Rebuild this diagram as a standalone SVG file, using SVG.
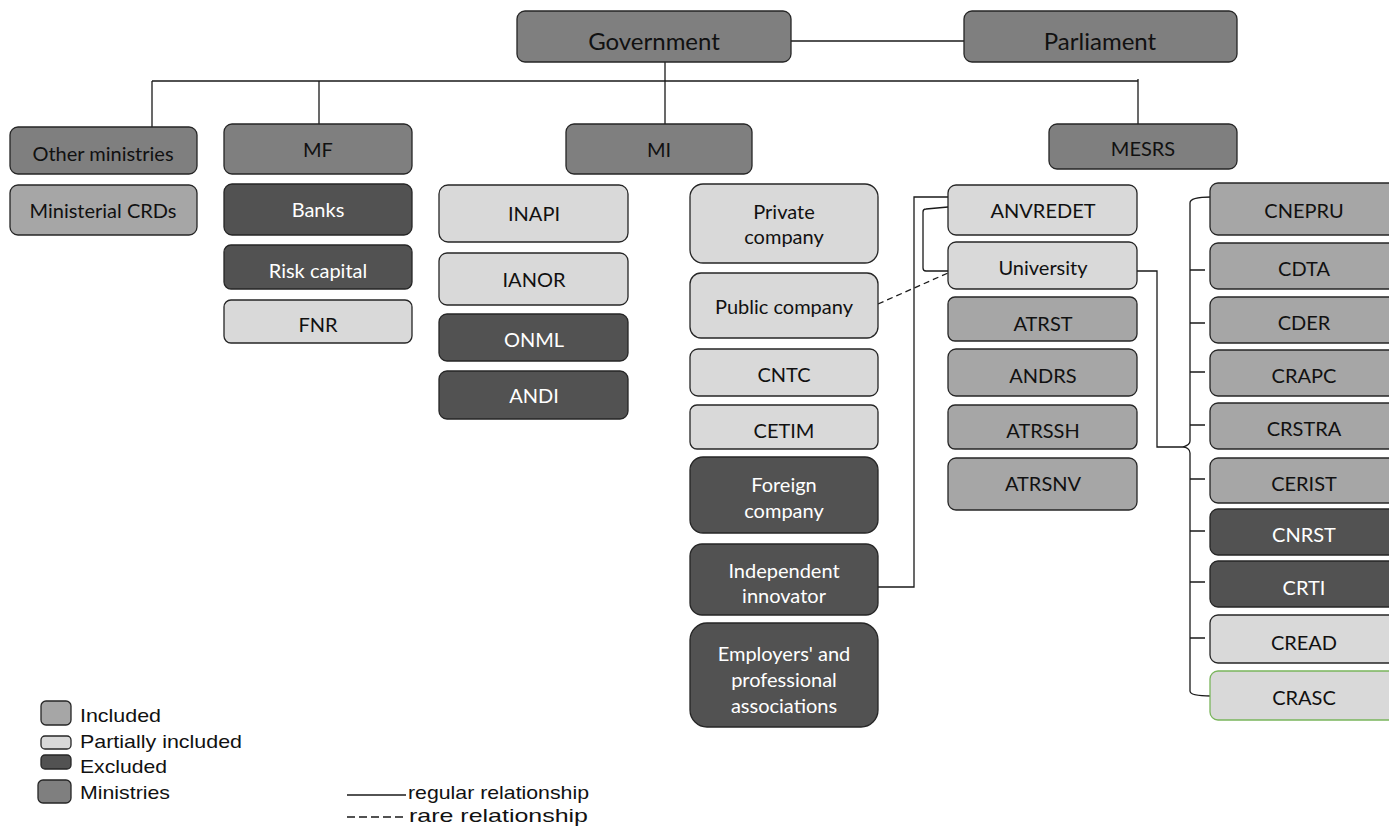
<svg xmlns="http://www.w3.org/2000/svg" width="1389" height="830" viewBox="0 0 1389 830">
<style>
rect{stroke:#262626;stroke-width:1.3}
.min{fill:#7f7f7f}
.inc{fill:#a6a6a6}
.par{fill:#d9d9d9}
.exc{fill:#525252}
text{font-family:Lato,"Liberation Sans",sans-serif;font-size:20px;text-anchor:middle;fill:#111}
.w{fill:#fff}
.big{font-size:24px}
.lg{font-family:"Liberation Sans",Arial,sans-serif;font-size:19px;text-anchor:start;fill:#111}
.c{fill:none;stroke:#1a1a1a;stroke-width:1.3}
.d{stroke-dasharray:6,4}
</style>
<g id="connectors">
<path class="c" d="M791,41 H964"/>
<path class="c" d="M152,81 H1138 M152,81 V127 M319,81 V124 M665,62 V124 M1138,79 V124"/>
<path class="c" d="M878,587 H914 V197 H948"/>
<path class="c" d="M948,207 L926,209 Q923,209 923,212 V268 Q923,271 926,271 H948"/>
<path class="c d" d="M878,304 L948,273"/>
<path class="c" d="M1137,271 H1157 V447 H1183"/>
<path class="c" d="M1211,197 C1200,197 1190,198 1190,203 V441 C1190,445 1186,446 1183,447 C1186,447 1190,449 1190,453 V691 C1190,695 1200,696 1211,696"/>
<path class="c" d="M1190,270 H1205 M1190,323 H1205 M1190,372 H1205 M1190,425 H1205 M1190,479 H1205 M1190,531 H1205 M1190,582 H1205 M1190,638 H1205"/>
</g>
<g id="government"><rect class="min" x="517" y="11" width="274" height="51" rx="8"/><text class="big" x="654" y="50">Government</text></g>
<g id="parliament"><rect class="min" x="964" y="11" width="273" height="51" rx="8"/><text class="big" x="1100" y="50">Parliament</text></g>
<g id="other-ministries"><rect class="min" x="10" y="127" width="187" height="47" rx="8"/><text x="103" y="161">Other ministries</text></g>
<g id="mf"><rect class="min" x="224" y="124" width="188" height="50" rx="8"/><text x="318" y="157">MF</text></g>
<g id="mi"><rect class="min" x="566" y="124" width="186" height="50" rx="8"/><text x="659" y="157">MI</text></g>
<g id="mesrs"><rect class="min" x="1049" y="124" width="188" height="45" rx="8"/><text x="1143" y="156">MESRS</text></g>
<g id="ministerial-crds"><rect class="inc" x="10" y="185" width="187" height="50" rx="8"/><text x="103" y="218">Ministerial CRDs</text></g>
<g id="banks"><rect class="exc" x="224" y="184" width="188" height="51" rx="8"/><text class="w" x="318" y="217">Banks</text></g>
<g id="risk-capital"><rect class="exc" x="224" y="245" width="188" height="44" rx="7"/><text class="w" x="318" y="278">Risk capital</text></g>
<g id="fnr"><rect class="par" x="224" y="300" width="188" height="43" rx="7"/><text x="318" y="332">FNR</text></g>
<g id="inapi"><rect class="par" x="439" y="185" width="189" height="57" rx="9"/><text x="534" y="221">INAPI</text></g>
<g id="ianor"><rect class="par" x="439" y="253" width="189" height="52" rx="8"/><text x="534" y="287">IANOR</text></g>
<g id="onml"><rect class="exc" x="439" y="314" width="189" height="47" rx="8"/><text class="w" x="534" y="347">ONML</text></g>
<g id="andi"><rect class="exc" x="439" y="371" width="189" height="48" rx="8"/><text class="w" x="534" y="403">ANDI</text></g>
<g id="private-company"><rect class="par" x="690" y="184" width="188" height="79" rx="13"/><text x="784" y="219">Private</text><text x="784" y="244">company</text></g>
<g id="public-company"><rect class="par" x="690" y="273" width="188" height="65" rx="11"/><text x="784" y="314">Public company</text></g>
<g id="cntc"><rect class="par" x="690" y="349" width="188" height="47" rx="8"/><text x="784" y="382">CNTC</text></g>
<g id="cetim"><rect class="par" x="690" y="405" width="188" height="44" rx="7"/><text x="784" y="438">CETIM</text></g>
<g id="foreign-company"><rect class="exc" x="690" y="457" width="188" height="76" rx="13"/><text class="w" x="784" y="492">Foreign</text><text class="w" x="784" y="518">company</text></g>
<g id="independent-innovator"><rect class="exc" x="690" y="544" width="188" height="71" rx="12"/><text class="w" x="784" y="578">Independent</text><text class="w" x="784" y="603">innovator</text></g>
<g id="employers"><rect class="exc" x="690" y="623" width="188" height="104" rx="17"/><text class="w" x="784" y="661">Employers' and</text><text class="w" x="784" y="687">professional</text><text class="w" x="784" y="713">associations</text></g>
<g id="anvredet"><rect class="par" x="948" y="185" width="189" height="50" rx="8"/><text x="1043" y="218">ANVREDET</text></g>
<g id="university"><rect class="par" x="948" y="242" width="189" height="47" rx="8"/><text x="1043" y="275">University</text></g>
<g id="atrst"><rect class="inc" x="948" y="297" width="189" height="44" rx="7"/><text x="1043" y="331">ATRST</text></g>
<g id="andrs"><rect class="inc" x="948" y="349" width="189" height="47" rx="8"/><text x="1043" y="383">ANDRS</text></g>
<g id="atrssh"><rect class="inc" x="948" y="405" width="189" height="44" rx="7"/><text x="1043" y="438">ATRSSH</text></g>
<g id="atrsnv"><rect class="inc" x="948" y="458" width="189" height="52" rx="8"/><text x="1043" y="491">ATRSNV</text></g>
<g id="cnepru"><rect class="inc" x="1210" y="183" width="188" height="52" rx="8"/><text x="1304" y="218">CNEPRU</text></g>
<g id="cdta"><rect class="inc" x="1210" y="243" width="188" height="46" rx="8"/><text x="1304" y="276">CDTA</text></g>
<g id="cder"><rect class="inc" x="1210" y="297" width="188" height="46" rx="8"/><text x="1304" y="330">CDER</text></g>
<g id="crapc"><rect class="inc" x="1210" y="350" width="188" height="46" rx="8"/><text x="1304" y="383">CRAPC</text></g>
<g id="crstra"><rect class="inc" x="1210" y="403" width="188" height="46" rx="8"/><text x="1304" y="436">CRSTRA</text></g>
<g id="cerist"><rect class="inc" x="1210" y="458" width="188" height="45" rx="8"/><text x="1304" y="491">CERIST</text></g>
<g id="cnrst"><rect class="exc" x="1210" y="509" width="188" height="46" rx="8"/><text class="w" x="1304" y="542">CNRST</text></g>
<g id="crti"><rect class="exc" x="1210" y="561" width="188" height="46" rx="8"/><text class="w" x="1304" y="595">CRTI</text></g>
<g id="cread"><rect class="par" x="1210" y="615" width="188" height="48" rx="8"/><text x="1304" y="650">CREAD</text></g>
<g id="crasc"><rect class="par" x="1210" y="671" width="188" height="49" rx="8" style="stroke:#7ab55c"/><text x="1304" y="705">CRASC</text></g>
<g id="legend">
<rect class="inc" x="41" y="701" width="30" height="24" rx="5"/><text class="lg" x="80" y="722" textLength="81" lengthAdjust="spacingAndGlyphs">Included</text>
<rect class="par" x="41" y="736" width="30" height="13" rx="4"/><text class="lg" x="80" y="748" textLength="162" lengthAdjust="spacingAndGlyphs">Partially included</text>
<rect class="exc" x="41" y="755" width="30" height="14" rx="4"/><text class="lg" x="80" y="773" textLength="87" lengthAdjust="spacingAndGlyphs">Excluded</text>
<rect class="min" x="38" y="780" width="33" height="23" rx="5"/><text class="lg" x="80" y="799" textLength="90" lengthAdjust="spacingAndGlyphs">Ministries</text>
<path class="c" d="M347,795 H406"/><text class="lg" x="408" y="799" textLength="181" lengthAdjust="spacingAndGlyphs">regular relationship</text>
<path class="c" d="M347,817 H406" style="stroke-dasharray:8,4"/><text class="lg" x="409" y="822" textLength="179" lengthAdjust="spacingAndGlyphs">rare relationship</text>
</g>
</svg>
